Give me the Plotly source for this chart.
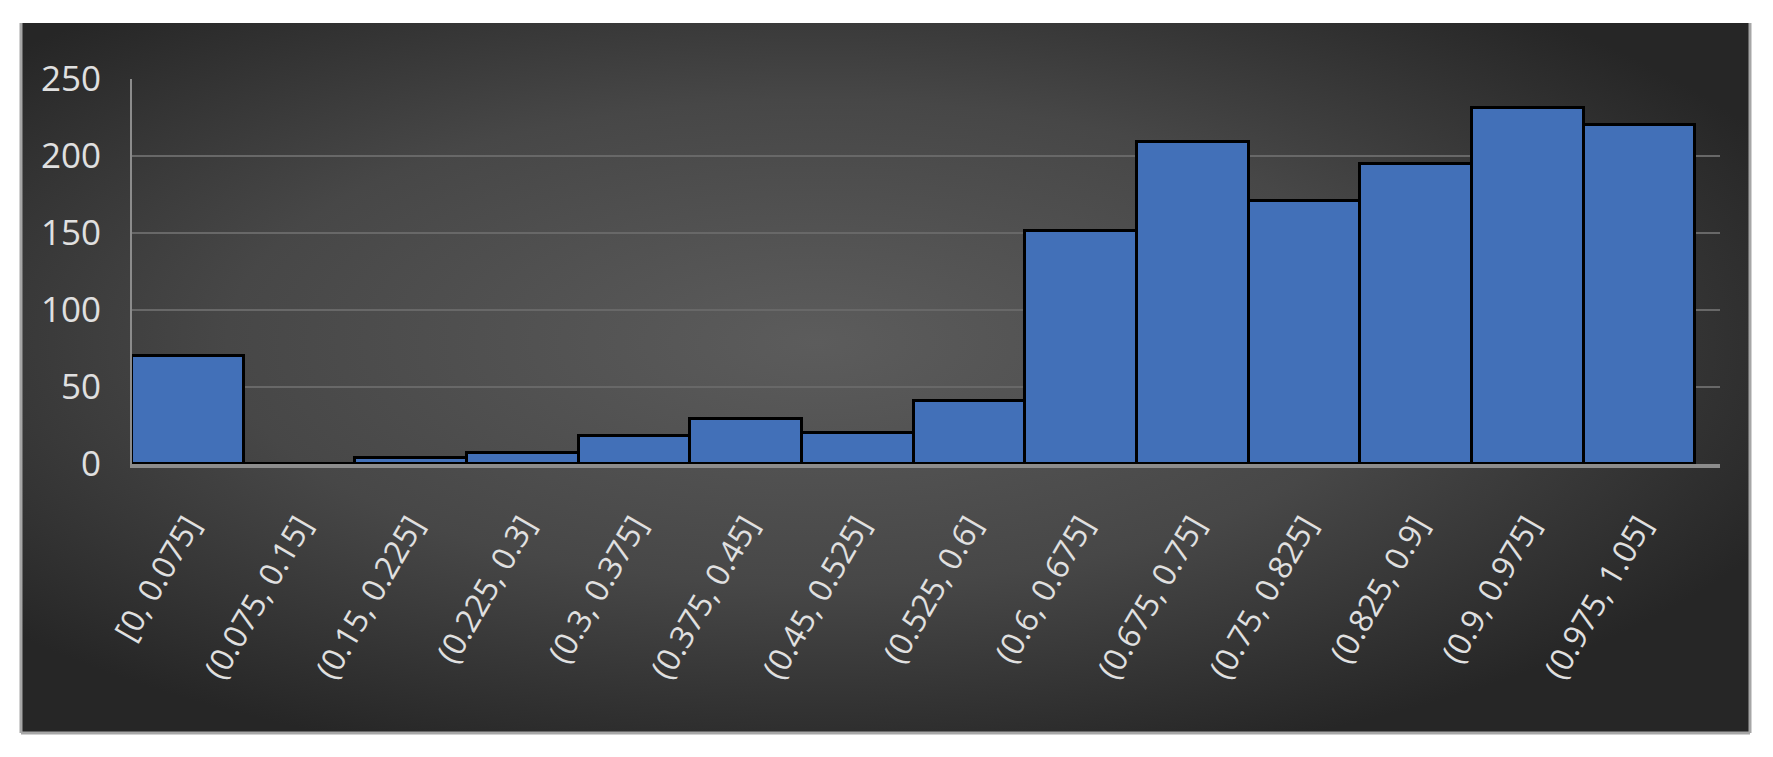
import base64
import plotly.graph_objects as go

# ---- data ----
categories = ["[0, 0.075]", "(0.075, 0.15]", "(0.15, 0.225]", "(0.225, 0.3]",
              "(0.3, 0.375]", "(0.375, 0.45]", "(0.45, 0.525]", "(0.525, 0.6]",
              "(0.6, 0.675]", "(0.675, 0.75]", "(0.75, 0.825]", "(0.825, 0.9]",
              "(0.9, 0.975]", "(0.975, 1.05]"]
counts = [70, 0, 4, 7, 18, 29, 20, 41, 151, 209, 171, 195, 231, 220]
y_ticks = [0, 50, 100, 150, 200, 250]

# the page body has an 8px margin, so the figure sits at (8, 8)
OFF = 8
W, H = 1773 - OFF, 757 - OFF
PLOT_L, PLOT_R, PLOT_T, PLOT_B = 132, 1720, 79, 464   # target window pixels
ML, MR = PLOT_L - OFF, W - (PLOT_R - OFF)
MT, MB = PLOT_T - OFF, H - (PLOT_B - OFF)
PW, PH = PLOT_R - PLOT_L, PLOT_B - PLOT_T

svg = ('<svg xmlns="http://www.w3.org/2000/svg" width="1000" height="400" '
       'preserveAspectRatio="none" viewBox="0 0 1000 400">'
       '<defs><radialGradient id="g" cx="0.46" cy="0.45" r="0.62" '
       'gradientUnits="objectBoundingBox">'
       '<stop offset="0" stop-color="#5c5c5c"/>'
       '<stop offset="0.55" stop-color="#474747"/>'
       '<stop offset="1" stop-color="#262626"/>'
       '</radialGradient></defs>'
       '<rect x="0" y="0" width="1000" height="400" fill="url(#g)"/></svg>')
svg_uri = "data:image/svg+xml;base64," + base64.b64encode(svg.encode()).decode()


def px_x(px):
    return (px - PLOT_L) / PW


def px_y(py):
    return (PLOT_B - py) / PH


panel_l, panel_r, panel_t, panel_b = 21, 1750, 23, 733
border = dict(color="#a6a6a6", width=3)

fig = go.Figure()
fig.add_trace(go.Bar(
    x=categories, y=counts,
    marker=dict(color="#4270b8", line=dict(color="#000000", width=3)),
))

fig.update_layout(
    width=W, height=H,
    margin=dict(l=ML, r=MR, t=MT, b=MB),
    paper_bgcolor="#ffffff",
    plot_bgcolor="rgba(0,0,0,0)",
    bargap=0,
    showlegend=False,
    font=dict(family="Open Sans", color="#e0e0e0"),
    images=[dict(source=svg_uri, xref="paper", yref="paper",
                 x=px_x(panel_l), y=px_y(panel_t),
                 sizex=px_x(panel_r) - px_x(panel_l),
                 sizey=px_y(panel_t) - px_y(panel_b),
                 xanchor="left", yanchor="top", sizing="stretch",
                 layer="below")],
    shapes=[
        dict(type="line", xref="paper", yref="paper", layer="below",
             x0=px_x(panel_l), x1=px_x(panel_l), y0=px_y(panel_t), y1=px_y(panel_b),
             line=border),
        dict(type="line", xref="paper", yref="paper", layer="below",
             x0=px_x(panel_r), x1=px_x(panel_r), y0=px_y(panel_t), y1=px_y(panel_b),
             line=border),
        dict(type="line", xref="paper", yref="paper", layer="below",
             x0=px_x(panel_l), x1=px_x(panel_r), y0=px_y(panel_b), y1=px_y(panel_b),
             line=border),
    ],
)

fig.update_xaxes(
    type="category",
    range=[-0.5, 13.72],
    tickangle=-60,
    tickfont=dict(size=32, color="#e0e0e0"),
    showgrid=False,
    showline=True, linecolor="#8c8c8c", linewidth=4,
    ticks="", ticklabelstandoff=26,
)
fig.update_yaxes(
    range=[0, 250],
    tickvals=y_ticks,
    tickfont=dict(size=35, color="#e0e0e0"),
    showgrid=True, gridcolor="#686868", gridwidth=2,
    zeroline=False,
    showline=True, linecolor="#8c8c8c", linewidth=2,
    ticks="", ticklabelstandoff=22,
)

fig.write_html("out.html")
